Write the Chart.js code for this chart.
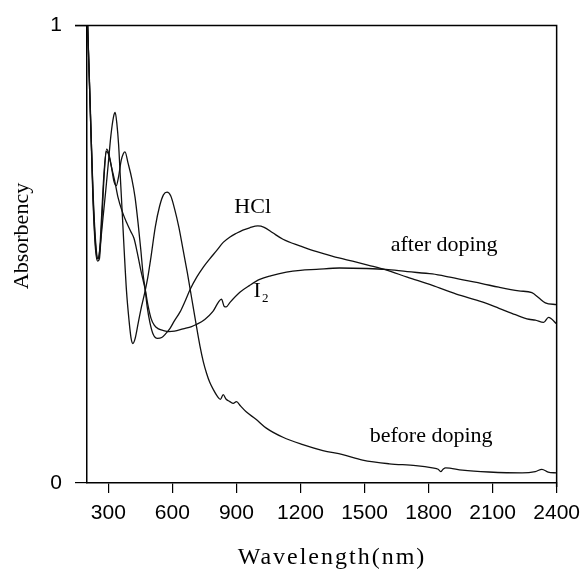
<!DOCTYPE html>
<html><head><meta charset="utf-8">
<script src="https://cdn.jsdelivr.net/npm/chart.js@4"></script>
<style>html,body{margin:0;padding:0;background:#fff}</style>
</head><body>
<canvas id="c" width="588" height="571"></canvas>
<script>
// ---- tick labels ----
const xTicks = [300, 600, 900, 1200, 1500, 1800, 2100, 2400];
const yTicks = [0, 1];

// ---- before doping ----
const beforeX = [203,215,228,240,252,262,275,288,300,312,324,332,340,348,356,364,374,385,397,406,415,425,440,455,470,485,500,520,540,558,575,592,610,630,650,670,690,710,729,745,760,775,791,810,825,838,852,869,885,900,920,947,990,1040,1118,1211,1305,1398,1491,1616,1740,1818,1845,1857,1868,1880,1958,2082,2238,2300,2331,2360,2400];
const beforeY = [1.0,0.82,0.64,0.53,0.49,0.52,0.58,0.64,0.70,0.76,0.80,0.81,0.785,0.74,0.67,0.60,0.51,0.42,0.355,0.318,0.305,0.315,0.35,0.385,0.415,0.45,0.495,0.56,0.605,0.63,0.636,0.628,0.60,0.56,0.51,0.46,0.405,0.35,0.30,0.265,0.24,0.22,0.205,0.19,0.183,0.193,0.183,0.178,0.174,0.178,0.168,0.155,0.14,0.12,0.10,0.084,0.071,0.062,0.05,0.042,0.038,0.033,0.03,0.025,0.03,0.033,0.028,0.024,0.022,0.025,0.03,0.024,0.022];

// ---- HCl doped ----
const hclX = [203,215,228,240,250,258,268,280,292,302,315,326,337,348,360,370,378,392,410,425,440,452,463,472,482,495,510,530,550,570,589,610,636,660,683,714,745,775,807,838,870,900,930,962,1000,1030,1070,1118,1200,1260,1320,1380,1444,1520,1600,1700,1818,1930,2051,2130,2207,2270,2300,2339,2362,2400];
const hclY = [1.0,0.83,0.63,0.52,0.49,0.50,0.58,0.68,0.73,0.72,0.69,0.66,0.65,0.67,0.705,0.72,0.724,0.70,0.665,0.625,0.565,0.51,0.455,0.425,0.385,0.35,0.325,0.316,0.318,0.327,0.338,0.355,0.374,0.398,0.423,0.45,0.472,0.49,0.508,0.526,0.538,0.546,0.553,0.558,0.562,0.559,0.547,0.533,0.518,0.508,0.50,0.492,0.485,0.476,0.466,0.45,0.432,0.413,0.396,0.382,0.368,0.358,0.356,0.351,0.362,0.348];

// ---- I2 doped ----
const i2X = [203,215,228,240,250,258,268,280,290,300,315,330,345,364,385,405,420,435,450,462,472,485,500,515,535,560,583,610,650,690,714,750,790,815,830,843,852,870,916,962,1009,1060,1134,1200,1274,1382,1507,1600,1700,1818,1900,1974,2050,2129,2223,2284,2316,2347,2400];
const i2Y = [1.0,0.82,0.62,0.51,0.485,0.49,0.56,0.67,0.725,0.72,0.69,0.66,0.625,0.595,0.57,0.55,0.535,0.505,0.47,0.445,0.425,0.39,0.36,0.345,0.337,0.333,0.331,0.332,0.337,0.342,0.347,0.357,0.375,0.395,0.402,0.386,0.385,0.395,0.417,0.432,0.445,0.453,0.461,0.465,0.467,0.47,0.469,0.467,0.462,0.457,0.45,0.443,0.436,0.428,0.42,0.416,0.405,0.394,0.39];

const toPts = (xs, ys) => xs.map((x, i) => ({x: x, y: ys[i]}));
const lineStyle = {borderColor:'#111', borderWidth:1.3, pointRadius:0, fill:false, cubicInterpolationMode:'monotone'};

const labels = [
  {text:'HCl', x:976, y:0.604},
  {text:'after doping', x:1873, y:0.52},
  {text:'before doping', x:1812, y:0.102}
];

const decor = {
  id:'decor',
  afterDraw(chart){
    const ctx = chart.ctx, a = chart.chartArea, sx = chart.scales.x, sy = chart.scales.y;
    ctx.save();
    ctx.strokeStyle = '#000'; ctx.lineWidth = 1.5;
    ctx.beginPath();
    ctx.moveTo(a.left - 12, a.top); ctx.lineTo(a.right, a.top); ctx.lineTo(a.right, a.bottom + 4);
    ctx.stroke();
    ctx.fillStyle = '#000';
    ctx.font = '22px "Liberation Serif"';
    ctx.textAlign = 'center'; ctx.textBaseline = 'middle';
    labels.forEach(l => ctx.fillText(l.text, sx.getPixelForValue(l.x), sy.getPixelForValue(l.y)));
    // I2 label with subscript
    const ix = sx.getPixelForValue(997), iy = sy.getPixelForValue(0.42);
    ctx.fillText('I', ix, iy);
    ctx.font = '13px "Liberation Serif"';
    ctx.fillText('2', ix + 8, iy + 8);
    // axis titles
    ctx.font = '24px "Liberation Serif"';
    ctx.letterSpacing = '2px';
    ctx.textBaseline = 'alphabetic';
    ctx.fillText('Wavelength(nm)', 332, 564);
    ctx.letterSpacing = '0px';
    ctx.font = '22px "Liberation Serif"';
    ctx.translate(22, 236);
    ctx.rotate(-Math.PI/2);
    ctx.textBaseline = 'middle';
    ctx.fillText('Absorbency', 0, 0);
    ctx.restore();
  }
};

new Chart(document.getElementById('c'), {
  type:'line',
  data:{datasets:[
    Object.assign({label:'before doping', data:toPts(beforeX, beforeY)}, lineStyle),
    Object.assign({label:'HCl', data:toPts(hclX, hclY)}, lineStyle),
    Object.assign({label:'I2', data:toPts(i2X, i2Y)}, lineStyle)
  ]},
  options:{
    responsive:false, animation:false, devicePixelRatio:1,
    layout:{padding:{left:0, top:23, right:31, bottom:0}},
    plugins:{legend:{display:false}, tooltip:{enabled:false}},
    scales:{
      x:{type:'linear', min:200, max:2400,
        afterBuildTicks:s => { s.ticks = xTicks.map(v => ({value:v})); },
        afterFit:s => { s.height = 88; },
        grid:{drawOnChartArea:false, drawTicks:true, tickLength:10, color:'#000', lineWidth:1.2},
        border:{display:true, color:'#000', width:1.5},
        ticks:{font:{family:'Liberation Sans', size:21}, color:'#000', padding:8, maxRotation:0, autoSkip:false, callback:v => String(v)}
      },
      y:{type:'linear', min:0, max:1,
        afterBuildTicks:s => { s.ticks = yTicks.map(v => ({value:v})); },
        afterFit:s => { s.width = 87; },
        grid:{drawOnChartArea:false, drawTicks:true, tickLength:12, color:'#000', lineWidth:1.2},
        border:{display:true, color:'#000', width:1.5},
        ticks:{font:{family:'Liberation Sans', size:21}, color:'#000', padding:13, callback:v => String(v)}
      }
    }
  },
  plugins:[decor]
});
</script>
</body></html>
